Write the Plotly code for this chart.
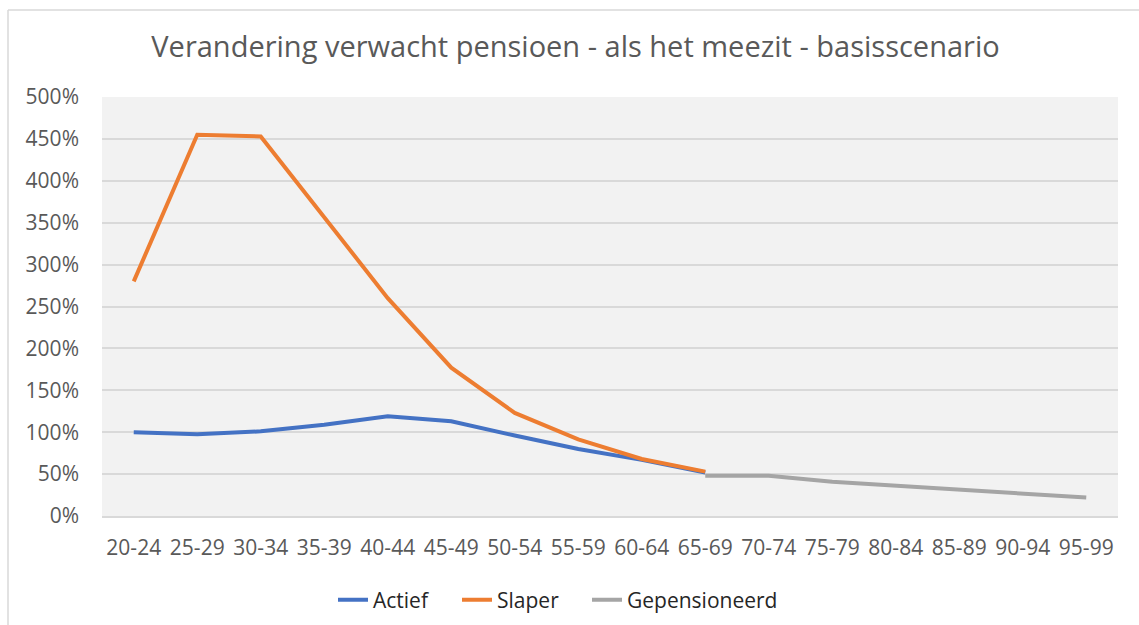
import plotly.graph_objects as go

categories = ["20-24", "25-29", "30-34", "35-39", "40-44", "45-49", "50-54", "55-59",
              "60-64", "65-69", "70-74", "75-79", "80-84", "85-89", "90-94", "95-99"]
actief = [1.00, 0.975, 1.01, 1.09, 1.19, 1.13, 0.96, 0.80, 0.67, 0.52,
          None, None, None, None, None, None]
slaper = [2.80, 4.55, 4.53, 3.57, 2.60, 1.77, 1.23, 0.915, 0.68, 0.53,
          None, None, None, None, None, None]
gepensioneerd = [None, None, None, None, None, None, None, None, None, 0.48,
                 0.48, 0.41, 0.36, 0.31, 0.26, 0.22]
y_ticks = [0, 0.5, 1.0, 1.5, 2.0, 2.5, 3.0, 3.5, 4.0, 4.5, 5.0]

W, H = 1139, 625
L, R, T, B = 102, 21, 97, 109
pw, ph = W - L - R, H - T - B

def px(x):
    return (x - L) / pw

def py(y):
    return (H - B - y) / ph

font_fam = "Open Sans, Carlito, Calibri, sans-serif"

fig = go.Figure()
fig.add_trace(go.Scatter(x=categories, y=actief, name="Actief", mode="lines",
                         legend="legend",
                         line=dict(color="#4472C4", width=4)))
fig.add_trace(go.Scatter(x=categories, y=slaper, name="Slaper", mode="lines",
                         legend="legend2",
                         line=dict(color="#ED7D31", width=4)))
fig.add_trace(go.Scatter(x=categories, y=gepensioneerd, name="Gepensioneerd", mode="lines",
                         legend="legend3",
                         line=dict(color="#A5A5A5", width=4)))

def leg(xpix):
    return dict(orientation="h", x=px(xpix), xanchor="left", y=py(600), yanchor="middle",
                font=dict(size=21, color="#262626"), bgcolor="rgba(0,0,0,0)")

fig.update_layout(
    width=W, height=H,
    margin=dict(l=L, r=R, t=T, b=B, autoexpand=False),
    paper_bgcolor="white",
    plot_bgcolor="#F2F2F2",
    font=dict(family=font_fam, color="#595959", size=21),
    title=dict(text="Verandering verwacht pensioen - als het meezit - basisscenario",
               x=575.5 / W, xanchor="center", y=1 - 47 / H, yanchor="middle",
               font=dict(size=29, color="#595959", family=font_fam)),
    showlegend=True,
    legend=leg(333),
    legend2=leg(457),
    legend3=leg(587),
    xaxis=dict(type="category", range=[-0.5, 15.5], showgrid=False,
               showline=True, linecolor="#D9D9D9", linewidth=1.5,
               ticks="", ticklabelstandoff=12,
               tickfont=dict(size=21, color="#595959"), fixedrange=True),
    yaxis=dict(range=[0, 5], tickvals=y_ticks, tickformat=".0%",
               showgrid=True, gridcolor="#D9D9D9", gridwidth=1.5,
               zeroline=False, ticks="", ticklabelstandoff=22,
               tickfont=dict(size=21, color="#595959"), fixedrange=True),
    shapes=[
        dict(type="line", xref="paper", yref="paper", x0=px(8), x1=px(W + 5),
             y0=py(10), y1=py(10), line=dict(color="#D9D9D9", width=1.5)),
        dict(type="line", xref="paper", yref="paper", x0=px(8), x1=px(8),
             y0=py(10), y1=py(H + 5), line=dict(color="#D9D9D9", width=1.5)),
    ],
)

fig.write_html("out.html", config={"displayModeBar": False},
               post_script="document.body.style.margin='0';")
